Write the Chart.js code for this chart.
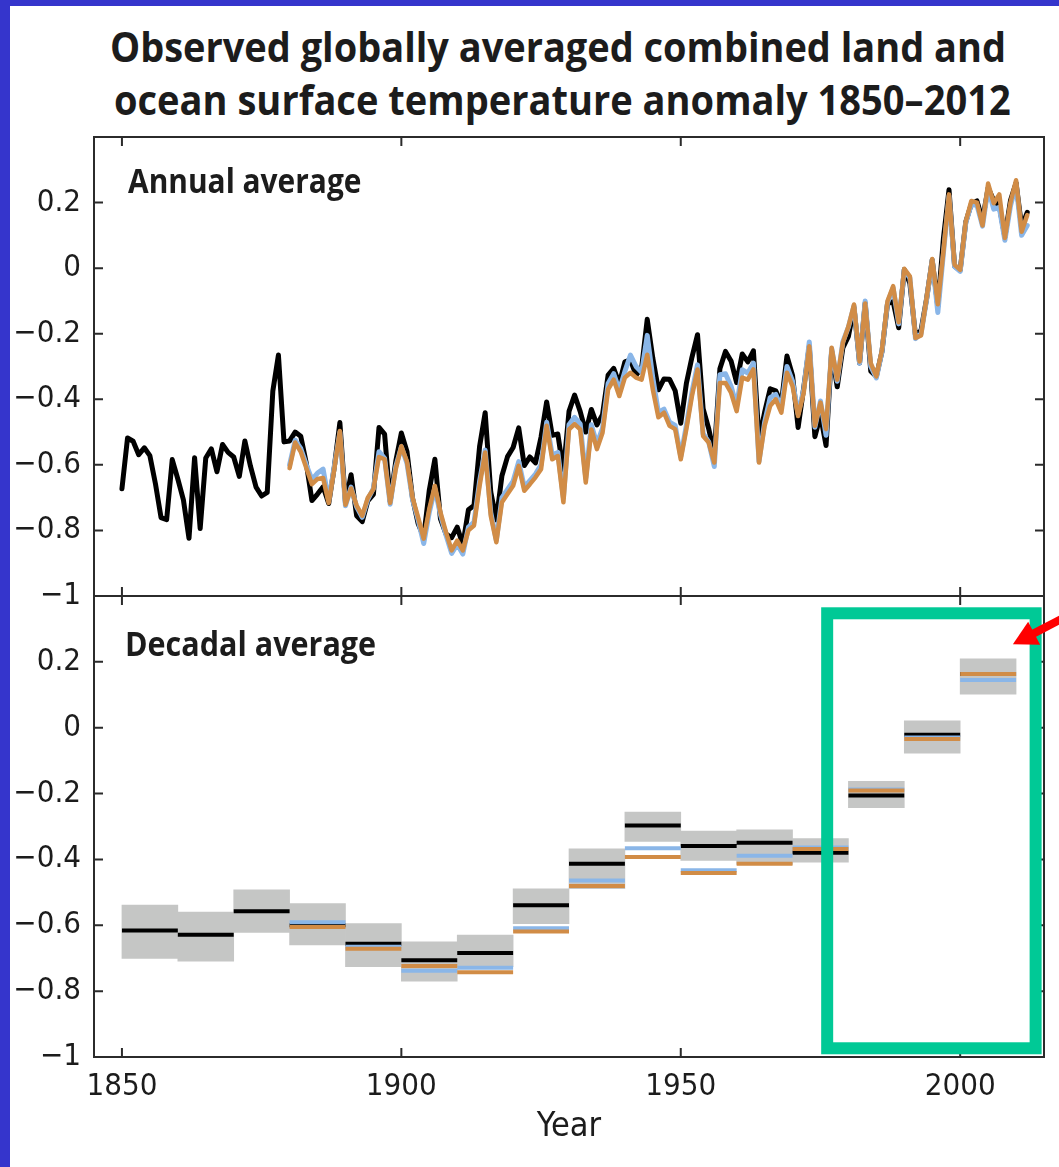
<!DOCTYPE html>
<html><head><meta charset="utf-8">
<script src="https://cdn.jsdelivr.net/npm/chart.js@4.4.1/dist/chart.umd.min.js"></script>
<style>
html,body{margin:0;padding:0;background:#fff;}
#page{position:relative;width:1059px;height:1167px;overflow:hidden;background:#fff;}
.bl{position:absolute;background:#3535cc;}
.cw{position:absolute;left:0;width:1059px;}
.txt{position:absolute;display:block;white-space:nowrap;color:#1c1c1c;transform-origin:0 0;}
</style></head><body>
<div id="page">
 <div class="cw" style="top:130px;height:475px"><canvas id="c1" width="1059" height="475"></canvas></div>
 <div class="cw" style="top:589px;height:578px"><canvas id="c2" width="1059" height="578"></canvas></div>
 <div class="bl" style="left:0;top:0;width:10px;height:1167px"></div>
 <div class="bl" style="left:0;top:0;width:1059px;height:6px"></div>
 <span id="t1" class="txt">Observed globally averaged combined land and</span>
 <span id="t2" class="txt">ocean surface temperature anomaly 1850–2012</span>
 <span id="p1" class="txt">Annual average</span>
 <span id="p2" class="txt">Decadal average</span>
</div>
<script>
// ---------------- DATA ----------------
const annualStartYear = 1850;
const hadcrut4Annual = [
-0.673,-0.518,-0.528,-0.569,-0.548,-0.572,-0.658,-0.761,-0.767,-0.584,
-0.643,-0.707,-0.824,-0.578,-0.794,-0.579,-0.551,-0.621,-0.538,-0.562,
-0.576,-0.635,-0.527,-0.604,-0.668,-0.695,-0.684,-0.375,-0.265,-0.530,
-0.527,-0.500,-0.513,-0.596,-0.709,-0.689,-0.667,-0.718,-0.607,-0.471,
-0.716,-0.630,-0.755,-0.773,-0.710,-0.690,-0.486,-0.506,-0.712,-0.589,
-0.503,-0.559,-0.702,-0.779,-0.820,-0.677,-0.583,-0.765,-0.811,-0.822,
-0.790,-0.844,-0.737,-0.724,-0.544,-0.441,-0.683,-0.768,-0.633,-0.575,
-0.547,-0.487,-0.602,-0.576,-0.594,-0.515,-0.408,-0.510,-0.506,-0.620,
-0.437,-0.387,-0.437,-0.500,-0.431,-0.478,-0.447,-0.326,-0.306,-0.352,
-0.286,-0.280,-0.327,-0.304,-0.156,-0.275,-0.371,-0.338,-0.339,-0.374,
-0.473,-0.352,-0.272,-0.203,-0.429,-0.490,-0.567,-0.307,-0.254,-0.283,
-0.349,-0.262,-0.286,-0.252,-0.523,-0.440,-0.368,-0.374,-0.413,-0.268,
-0.327,-0.486,-0.365,-0.238,-0.514,-0.449,-0.541,-0.253,-0.362,-0.243,
-0.208,-0.120,-0.289,-0.106,-0.314,-0.330,-0.255,-0.108,-0.102,-0.182,
-0.004,-0.046,-0.205,-0.190,-0.092,0.025,-0.117,0.090,0.239,0.006,
-0.006,0.141,0.196,0.205,0.147,0.245,0.206,0.191,0.095,0.206,
0.260,0.125,0.170];
const otherStartYear = 1880;
const mlostAnnual = [
-0.600,-0.525,-0.550,-0.600,-0.645,-0.625,-0.613,-0.710,-0.605,-0.500,
-0.725,-0.668,-0.728,-0.760,-0.705,-0.672,-0.560,-0.580,-0.720,-0.605,
-0.545,-0.595,-0.705,-0.768,-0.840,-0.745,-0.672,-0.752,-0.815,-0.870,
-0.842,-0.872,-0.790,-0.775,-0.650,-0.555,-0.745,-0.830,-0.700,-0.675,
-0.650,-0.590,-0.668,-0.648,-0.628,-0.600,-0.470,-0.570,-0.562,-0.700,
-0.478,-0.455,-0.475,-0.640,-0.478,-0.536,-0.488,-0.352,-0.322,-0.372,
-0.315,-0.265,-0.300,-0.318,-0.205,-0.335,-0.440,-0.430,-0.470,-0.480,
-0.575,-0.480,-0.378,-0.295,-0.505,-0.530,-0.605,-0.325,-0.322,-0.360,
-0.420,-0.310,-0.320,-0.290,-0.590,-0.470,-0.395,-0.385,-0.425,-0.300,
-0.345,-0.445,-0.370,-0.225,-0.485,-0.405,-0.510,-0.245,-0.345,-0.225,
-0.180,-0.115,-0.290,-0.100,-0.300,-0.335,-0.255,-0.105,-0.060,-0.170,
-0.005,-0.030,-0.215,-0.200,-0.095,0.025,-0.135,0.045,0.220,0.005,
-0.010,0.138,0.195,0.192,0.128,0.245,0.180,0.185,0.085,0.190,
0.255,0.100,0.130];
const gissAnnual = [
-0.610,-0.532,-0.560,-0.610,-0.659,-0.643,-0.640,-0.716,-0.613,-0.497,
-0.722,-0.672,-0.724,-0.755,-0.700,-0.674,-0.576,-0.583,-0.716,-0.613,
-0.543,-0.590,-0.700,-0.760,-0.825,-0.734,-0.664,-0.745,-0.806,-0.861,
-0.831,-0.861,-0.800,-0.785,-0.664,-0.562,-0.755,-0.836,-0.714,-0.689,
-0.664,-0.603,-0.679,-0.659,-0.638,-0.613,-0.481,-0.583,-0.573,-0.714,
-0.492,-0.476,-0.492,-0.654,-0.492,-0.552,-0.502,-0.370,-0.340,-0.390,
-0.334,-0.319,-0.334,-0.340,-0.264,-0.370,-0.455,-0.441,-0.481,-0.491,
-0.583,-0.491,-0.390,-0.309,-0.512,-0.532,-0.593,-0.350,-0.350,-0.380,
-0.436,-0.334,-0.340,-0.309,-0.593,-0.481,-0.420,-0.400,-0.441,-0.319,
-0.360,-0.451,-0.380,-0.238,-0.481,-0.410,-0.491,-0.243,-0.340,-0.228,
-0.178,-0.111,-0.285,-0.108,-0.290,-0.330,-0.250,-0.100,-0.055,-0.165,
-0.002,-0.025,-0.213,-0.205,-0.090,0.028,-0.110,0.050,0.225,0.010,
-0.005,0.142,0.205,0.200,0.130,0.258,0.198,0.225,0.092,0.200,
0.268,0.111,0.162];

const decadeStarts = [1850,1860,1870,1880,1890,1900,1910,1920,1930,1940,1950,1960,1970,1980,1990,2000];
const decadeLength = 10;
const hadcrut4Decadal     = [-0.616,-0.629,-0.557,-0.600,-0.656,-0.706,-0.684,-0.539,-0.413,-0.297,-0.359,-0.349,-0.380,-0.206,-0.021,0.163];
const hadcrut4DecadalLow  = [-0.701,-0.709,-0.622,-0.660,-0.726,-0.770,-0.726,-0.595,-0.489,-0.345,-0.403,-0.415,-0.408,-0.243,-0.077,0.102];
const hadcrut4DecadalHigh = [-0.539,-0.560,-0.492,-0.534,-0.595,-0.650,-0.630,-0.489,-0.368,-0.256,-0.314,-0.310,-0.337,-0.163,0.021,0.209];
const otherDecadeStarts = [1880,1890,1900,1910,1920,1930,1940,1950,1960,1970,1980,1990,2000];
const mlostDecadal = [-0.591,-0.665,-0.738,-0.729,-0.609,-0.464,-0.366,-0.433,-0.389,-0.364,-0.188,-0.030,0.145];
const gissDecadal  = [-0.605,-0.671,-0.724,-0.743,-0.619,-0.481,-0.393,-0.441,-0.413,-0.368,-0.191,-0.034,0.163];

const xTickValues = [1850,1900,1950,2000];
const xTickLabels = ['1850','1900','1950','2000'];
const yTickValues = [-1,-0.8,-0.6,-0.4,-0.2,0,0.2];
const yTickLabels = ['\u22121','\u22120.8','\u22120.6','\u22120.4','\u22120.2','0','0.2'];
const xRange = [1845,2015];
const yRange = [-1,0.4];
// highlight box & arrow (data coordinates of bottom panel)
const highlightBox = {x0:1976.2, x1:2013.5, y0:0.3475, y1:-0.9735};
const arrowTip = {x:2009.43, y:0.2533};

// ---------------- STYLE ----------------
const C_BLACK='#000000', C_BLUE='#8ab6e8', C_ORANGE='#d18c46', C_GREY='#c5c6c5';
const C_FRAME='#2b2b2b', C_TEXT='#1c1c1c', C_GREEN='#00c996', C_RED='#ff0000';

// ---------------- FONTS ----------------
const mctx = document.createElement('canvas').getContext('2d');
function fontAvail(fam){
  const s='1850 Year \u22120.8 abcdefghijk';
  for (const base of ['monospace','serif']){
    mctx.font='50px '+base; const w0=mctx.measureText(s).width;
    mctx.font='50px "'+fam+'", '+base; const w1=mctx.measureText(s).width;
    if (Math.abs(w0-w1)>0.5) return true;
  }
  return false;
}
const narrowCands=['Liberation Sans Narrow','Arial Narrow','DejaVu Sans Condensed','Roboto Condensed','Open Sans Condensed'];
const tickFam = narrowCands.find(fontAvail) || 'Liberation Sans';
const tickFamily = '"'+tickFam+'", "Liberation Sans", sans-serif';
mctx.font='100px '+tickFamily;
const m1850 = mctx.measureText('1850');
const sizeW = 68/m1850.width*100, sizeH = 25/m1850.actualBoundingBoxAscent*100;
const tickSize = Math.round((sizeW+sizeH)/2) - 1;
const headFamily = fontAvail('Open Sans') ? '"Open Sans", sans-serif' : '"Liberation Sans", sans-serif';

function fitText(id, o){
  const el=document.getElementById(id); const text=el.textContent;
  mctx.font=o.weight+' 100px '+o.family;
  const cap=mctx.measureText('H').actualBoundingBoxAscent;
  const size=o.cap/cap*100;
  const f=o.weight+' '+size+'px '+o.family;
  mctx.font=f;
  const tm=mctx.measureText(text);
  const inkW=tm.actualBoundingBoxLeft+tm.actualBoundingBoxRight;
  const sx=o.width/inkW;
  el.style.font=f; el.style.lineHeight=size+'px';
  const baseOff=(size-(tm.fontBoundingBoxAscent+tm.fontBoundingBoxDescent))/2+tm.fontBoundingBoxAscent;
  el.style.top=(o.baseline-baseOff)+'px';
  el.style.left=(o.left+tm.actualBoundingBoxLeft*sx)+'px';
  el.style.transform='scaleX('+sx+')';
}
fitText('t1',{family:headFamily,weight:'700',left:112,width:892,baseline:62,cap:30});
fitText('t2',{family:headFamily,weight:'700',left:115,width:895,baseline:115,cap:30});
fitText('p1',{family:headFamily,weight:'700',left:128,width:233,baseline:193.5,cap:25});
fitText('p2',{family:headFamily,weight:'700',left:128,width:248,baseline:656.5,cap:25});

// ---------------- HELPERS ----------------
function seriesPoints(values,start){ return values.map((v,i)=>({x:start+i,y:v})); }
function decadeSegments(values,starts){
  const pts=[];
  values.forEach((v,i)=>{ pts.push({x:starts[i],y:v},{x:starts[i]+decadeLength,y:v},{x:starts[i]+decadeLength,y:null}); });
  return pts;
}
const framePlugin={
  id:'frame',
  afterDraw(chart){
    const {ctx,chartArea:a,scales}=chart; const xs=scales.x, ys=scales.y;
    ctx.save(); ctx.strokeStyle=C_FRAME; ctx.lineWidth=2;
    ctx.strokeRect(a.left,a.top,a.right-a.left,a.bottom-a.top);
    ctx.beginPath();
    xTickValues.forEach(v=>{const p=xs.getPixelForValue(v);
      ctx.moveTo(p,a.bottom); ctx.lineTo(p,a.bottom-9); ctx.moveTo(p,a.top); ctx.lineTo(p,a.top+9);});
    yTickValues.forEach(v=>{const p=ys.getPixelForValue(v);
      ctx.moveTo(a.left,p); ctx.lineTo(a.left+9,p); ctx.moveTo(a.right,p); ctx.lineTo(a.right-9,p);});
    ctx.stroke(); ctx.restore();
  }
};
const highlightPlugin={
  id:'highlight',
  afterDraw(chart){
    const {ctx,scales}=chart; const xs=scales.x, ys=scales.y;
    const x0=xs.getPixelForValue(highlightBox.x0), x1=xs.getPixelForValue(highlightBox.x1);
    const y0=ys.getPixelForValue(highlightBox.y0), y1=ys.getPixelForValue(highlightBox.y1);
    ctx.save();
    ctx.strokeStyle=C_GREEN; ctx.lineWidth=12; ctx.lineJoin='miter';
    ctx.strokeRect(x0,y0,x1-x0,y1-y0);
    const tx=xs.getPixelForValue(arrowTip.x), ty=ys.getPixelForValue(arrowTip.y);
    const ang=Math.atan2(-25,48);
    const ux=Math.cos(ang), uy=Math.sin(ang);
    const headLen=24, headHalf=13;
    const bx=tx+ux*headLen, by=ty+uy*headLen;
    ctx.strokeStyle=C_RED; ctx.lineWidth=8; ctx.lineCap='butt';
    ctx.beginPath(); ctx.moveTo(bx-ux*2,by-uy*2); ctx.lineTo(tx+ux*120,ty+uy*120); ctx.stroke();
    ctx.fillStyle=C_RED; ctx.beginPath();
    ctx.moveTo(tx,ty); ctx.lineTo(bx-uy*headHalf,by+ux*headHalf); ctx.lineTo(bx+uy*headHalf,by-ux*headHalf); ctx.closePath(); ctx.fill();
    ctx.restore();
  }
};
const tickFont={family:tickFamily,size:tickSize};
function yScale(){
  return {type:'linear',min:yRange[0],max:yRange[1],
    grid:{display:false,drawTicks:false},border:{display:false},
    afterBuildTicks:s=>{s.ticks=yTickValues.map(v=>({value:v}));},
    ticks:{autoSkip:false,padding:13,color:C_TEXT,font:tickFont,callback:(v,i)=>yTickLabels[i]},
    afterFit:s=>{s.width=94;s.paddingTop=0;s.paddingBottom=0;}};
}
function xFit(h){ return s=>{s.height=h;s.paddingLeft=0;s.paddingRight=0;}; }

// ---------------- TOP CHART ----------------
new Chart(document.getElementById('c1'),{
  type:'line',
  data:{datasets:[
    {label:'GISS',data:seriesPoints(gissAnnual,otherStartYear),borderColor:C_ORANGE,borderWidth:4.5,order:0},
    {label:'NCDC MLOST',data:seriesPoints(mlostAnnual,otherStartYear),borderColor:C_BLUE,borderWidth:5,order:1},
    {label:'HadCRUT4',data:seriesPoints(hadcrut4Annual,annualStartYear),borderColor:C_BLACK,borderWidth:5,order:2}
  ]},
  options:{
    responsive:false,animation:false,
    layout:{padding:{top:7,right:15,left:0,bottom:0}},
    plugins:{legend:{display:false},tooltip:{enabled:false},title:{display:false}},
    elements:{point:{radius:0},line:{tension:0,borderJoinStyle:'round',borderCapStyle:'round',fill:false}},
    scales:{
      x:{type:'linear',min:xRange[0],max:xRange[1],grid:{display:false,drawTicks:false},border:{display:false},
        afterBuildTicks:s=>{s.ticks=xTickValues.map(v=>({value:v}));},
        ticks:{display:false},afterFit:xFit(9)},
      y:yScale()
    }
  },
  plugins:[framePlugin]
});

// ---------------- BOTTOM CHART ----------------
new Chart(document.getElementById('c2'),{
  type:'bar',
  data:{datasets:[
    {type:'bar',label:'HadCRUT4 uncertainty',data:decadeStarts.map((s,i)=>({x:s+decadeLength/2,y:[hadcrut4DecadalLow[i],hadcrut4DecadalHigh[i]]})),
      backgroundColor:C_GREY,borderWidth:0,barPercentage:1,categoryPercentage:1,grouped:false,order:10},
    {type:'line',label:'HadCRUT4',data:decadeSegments(hadcrut4Decadal,decadeStarts),borderColor:C_BLACK,borderWidth:4,order:3},
    {type:'line',label:'NCDC MLOST',data:decadeSegments(mlostDecadal,otherDecadeStarts),borderColor:C_BLUE,borderWidth:4,order:2},
    {type:'line',label:'GISS',data:decadeSegments(gissDecadal,otherDecadeStarts),borderColor:C_ORANGE,borderWidth:4,order:1}
  ]},
  options:{
    responsive:false,animation:false,
    layout:{padding:{top:7,right:15,left:0,bottom:0}},
    plugins:{legend:{display:false},tooltip:{enabled:false},title:{display:false}},
    elements:{point:{radius:0},line:{tension:0,borderCapStyle:'butt',fill:false}},
    datasets:{line:{spanGaps:false,pointRadius:0}},
    scales:{
      x:{type:'linear',offset:false,min:xRange[0],max:xRange[1],grid:{display:false,drawTicks:false,offset:false},border:{display:false},
        afterBuildTicks:s=>{s.ticks=xTickValues.map(v=>({value:v}));},
        ticks:{autoSkip:false,maxRotation:0,padding:11,color:C_TEXT,font:tickFont,callback:(v,i)=>xTickLabels[i]},
        title:{display:true,text:'Year',color:C_TEXT,font:{family:tickFamily,size:tickSize+3},padding:{top:0,bottom:40-(tickSize+3)*0.6}},
        afterFit:xFit(110)},
      y:yScale()
    }
  },
  plugins:[framePlugin,highlightPlugin]
});
</script>
</body></html>
